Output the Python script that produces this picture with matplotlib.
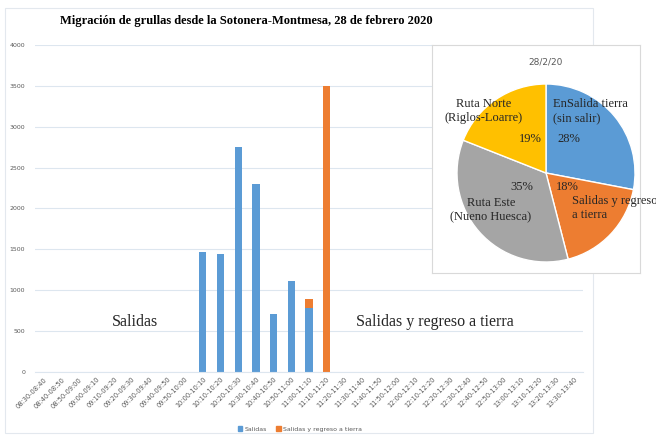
import matplotlib
matplotlib.use("Agg")
import matplotlib.pyplot as plt
from matplotlib.patches import Rectangle, Patch
import numpy as np

W, H = 656, 436

intervals = ["08:30-08:40", "08:40-08:50", "08:50-09:00", "09:00-09:10", "09:10-09:20",
             "09:20-09:30", "09:30-09:40", "09:40-09:50", "09:50-10:00", "10:00-10:10",
             "10:10-10:20", "10:20-10:30", "10:30-10:40", "10:40-10:50", "10:50-11:00",
             "11:00-11:10", "11:10-11:20", "11:20-11:30", "11:30-11:40", "11:40-11:50",
             "11:50-12:00", "12:00-12:10", "12:10-12:20", "12:20-12:30", "12:30-12:40",
             "12:40-12:50", "12:50-13:00", "13:00-13:10", "13:10-13:20", "13:20-13:30",
             "13:30-13:40"]
salidas = [0, 0, 0, 0, 0, 0, 0, 0, 0, 1465, 1440, 2750, 2295, 715, 1115, 780,
           0, 0, 0, 0, 0, 0, 0, 0, 0, 0, 0, 0, 0, 0, 0]
regreso = [0, 0, 0, 0, 0, 0, 0, 0, 0, 0, 0, 0, 0, 0, 0, 110,
           3500, 0, 0, 0, 0, 0, 0, 0, 0, 0, 0, 0, 0, 0, 0]

pie_labels = ["EnSalida tierra\n(sin salir)", "Salidas y regreso\na tierra",
              "Ruta Este\n(Nueno Huesca)", "Ruta Norte\n(Riglos-Loarre)"]
pie_values = [28, 18, 35, 19]

BLUE = "#5B9BD5"
ORANGE = "#ED7D31"
GRAY = "#A5A5A5"
YELLOW = "#FFC000"
TXT = "#595959"
GRID = "#DDE6EF"

def fx(x):
    return x / W

def fy(y):
    return 1 - y / H

fig = plt.figure(figsize=(W / 100, H / 100), dpi=100)

# outer chart border
fig.patches.append(Rectangle((fx(5), fy(433)), fx(593) - fx(5), fy(8) - fy(433),
                             transform=fig.transFigure, fill=False, edgecolor="#E3E8EE",
                             lw=0.8, zorder=0))

ax = fig.add_axes([fx(35), fy(372), fx(583) - fx(35), fy(45) - fy(372)])
x = np.arange(len(intervals))
ax.bar(x, salidas, width=0.4, color=BLUE, zorder=2, label="Salidas")
ax.bar(x, regreso, width=0.4, bottom=salidas, color=ORANGE, zorder=2,
       label="Salidas y regreso a tierra")
ax.set_xlim(-0.5, len(intervals) - 0.5)
ax.set_ylim(0, 4000)
ax.set_yticks(np.arange(0, 4001, 500))
ax.yaxis.grid(True, color=GRID, lw=0.8)
ax.set_axisbelow(True)
for s in ["top", "right", "left"]:
    ax.spines[s].set_visible(False)
ax.spines["bottom"].set_color(GRID)
ax.tick_params(axis="y", length=0, labelsize=4.5, labelcolor=TXT, pad=7)
ax.tick_params(axis="x", length=0, labelsize=4.8, labelcolor=TXT, pad=3)
ax.set_xticks(x)
ax.set_xticklabels(intervals, rotation=45, ha="right", rotation_mode="anchor")

ax.legend(handles=[Patch(color=BLUE, label="Salidas"),
                   Patch(color=ORANGE, label="Salidas y regreso a tierra")],
          loc="center", bbox_to_anchor=(fx(300), fy(429)), bbox_transform=fig.transFigure,
          ncol=2, frameon=False, fontsize=4.5, handlelength=0.7, handleheight=0.7,
          handletextpad=0.4, columnspacing=1.5, labelcolor=TXT)

fig.text(fx(246), fy(21), "Migración de grullas desde la Sotonera-Montmesa, 28 de febrero 2020",
         family="Liberation Serif", weight="bold", fontsize=9, ha="center", va="center")

fig.text(fx(112), fy(322), "Salidas", family="Liberation Serif", fontsize=11.5,
         ha="left", va="center", color="#262626")
fig.text(fx(356), fy(322), "Salidas y regreso a tierra", family="Liberation Serif",
         fontsize=11.5, ha="left", va="center", color="#262626")

# pie inset box
box = fig.add_axes([fx(432), fy(273), fx(640) - fx(432), fy(45) - fy(273)])
box.set_xticks([])
box.set_yticks([])
box.set_facecolor("white")
for s in box.spines.values():
    s.set_color("#D9D9D9")
    s.set_linewidth(0.8)
box.set_zorder(3)

r = 89
cx, cy = 546, 173
pax = fig.add_axes([fx(cx - r), fy(cy + r), fx(2 * r), (2 * r) / H])
pax.set_zorder(4)
pax.pie(pie_values, colors=[BLUE, ORANGE, GRAY, YELLOW], startangle=90, counterclock=False,
        wedgeprops=dict(edgecolor="white", linewidth=1))
pax.set_xlim(-1, 1)
pax.set_ylim(-1, 1)
pax.set_aspect("auto")

fig.text(fx(546), fy(62), "28/2/20", fontsize=6.5, color=TXT, ha="center", va="center",
         zorder=10)

serif = dict(family="Liberation Serif", fontsize=9, color="#262626", zorder=10,
             linespacing=1.3)
fig.text(fx(553), fy(111), pie_labels[0], ha="left", va="center", **serif)
fig.text(fx(557), fy(139), f"{pie_values[0]}%", ha="left", va="center", **serif)
fig.text(fx(567), fy(187), f"{pie_values[1]}%", ha="center", va="center", **serif)
fig.text(fx(572), fy(208), pie_labels[1], ha="left", va="center", **serif)
fig.text(fx(522), fy(187), f"{pie_values[2]}%", ha="center", va="center", **serif)
fig.text(fx(491), fy(210), pie_labels[2], ha="center", va="center", **serif)
fig.text(fx(484), fy(111), pie_labels[3], ha="center", va="center", **serif)
fig.text(fx(530), fy(139), f"{pie_values[3]}%", ha="center", va="center", **serif)

fig.savefig("out.png", dpi=100)
